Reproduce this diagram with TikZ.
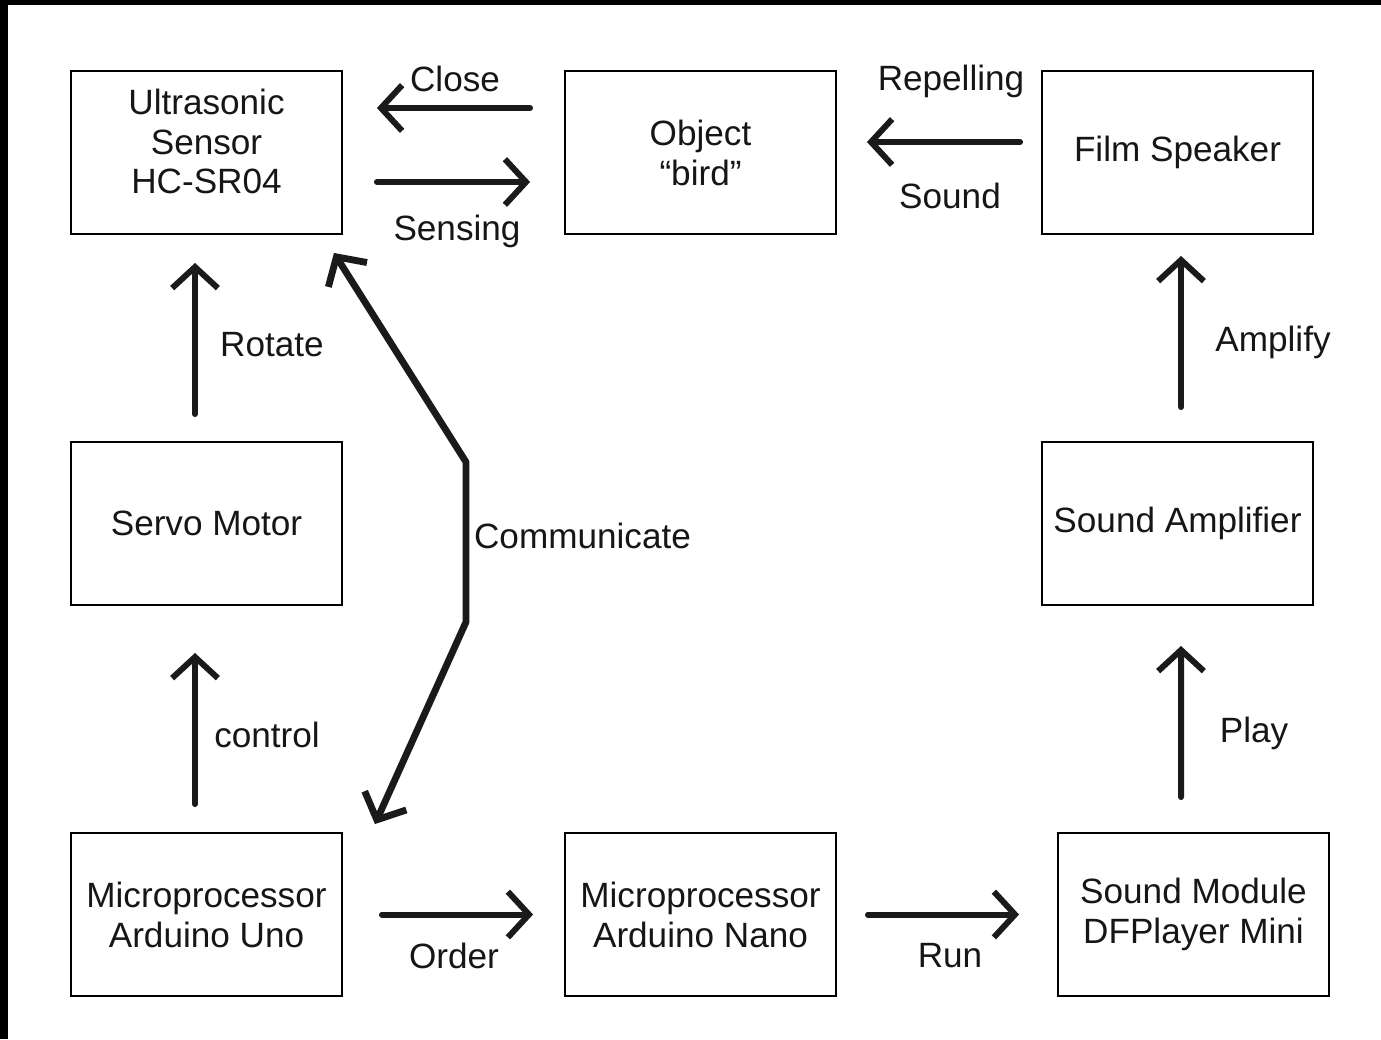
\documentclass[tikz,border=0pt]{standalone}
\usepackage{fontspec}
\setmainfont{Liberation Sans}
\usetikzlibrary{arrows.meta,calc}
\definecolor{inkText}{HTML}{161616}
\definecolor{arrowInk}{HTML}{1A1A1A}

\begin{document}
\begin{tikzpicture}[
  x=0.02cm, y=0.02cm,
  font=\fontsize{20}{22.7}\selectfont,
  every node/.style={text=inkText},
  box/.style={draw=black, line width=1.1pt, align=center, inner sep=0pt,
              minimum width=5.42cm, minimum height=3.26cm},
  flow/.style={-{Straight Barb[length=12pt,width=26pt]}, line width=3.4pt,
               draw=arrowInk, line cap=round, line join=round},
  flowbi/.style={{Straight Barb[length=12pt,width=26pt]}-{Straight Barb[length=12pt,width=26pt]},
                 line width=3.9pt, draw=arrowInk, line cap=round, line join=round},
  lbl/.style={inner sep=1pt},
]
\useasboundingbox (0,0) rectangle (1381,-1039);
% screenshot edges
\fill[black] (0,0) rectangle (1381,-5);
\fill[black] (0,0) rectangle (8,-1039);

% ---------------- NODES (absolute grid) ----------------
\node[box] (US) at (206.5,-152.5) {Ultrasonic\\Sensor\\HC-SR04\\[-10pt]\mbox{}};
\node[box] (OBJ) at (700.5,-152.5) {Object\\“bird”};
\node[box] (SPK) at (1177.5,-152.5) {Film Speaker};

\node[box] (SRV) at (206.5,-523.5) {Servo Motor};
\node[box] (AMP) at (1177.5,-523.5) {Sound Amplifier};

\node[box] (UNO) at (206.5,-914.5) {Microprocessor\\Arduino Uno};
\node[box] (NANO) at (700.5,-914.5) {Microprocessor\\Arduino Nano};
\node[box] (DFP) at (1193.5,-914.5) {Sound Module\\DFPlayer Mini};

\coordinate (bendTop) at (466,-462);
\coordinate (bendBot) at (466,-622);

% ---------------- EDGES ----------------
\draw[flow] ($(OBJ.west)+(-34,44.5)$) -- ($(US.east)+(34,44.5)$);
\draw[flow] ($(US.east)+(34,-29.5)$) -- ($(OBJ.west)+(-34,-29.5)$);
\draw[flow] ($(SPK.west)+(-21,10.5)$) -- ($(OBJ.east)+(30,10.5)$);
\draw[flow] ($(SRV.north)+(-11.5,27)$) -- ($(US.south)+(-11.5,-28)$);
\draw[flow] ($(UNO.north)+(-11.5,28)$) -- ($(SRV.south)+(-11.5,-47)$);
\draw[flow] ($(AMP.north)+(3.5,34)$) -- ($(SPK.south)+(3.5,-21)$);
\draw[flow] ($(DFP.north)+(-12.5,35)$) -- ($(AMP.south)+(3.5,-40)$);
\draw[flow] ($(UNO.east)+(39,0)$) -- ($(NANO.west)+(-31,0)$);
\draw[flow] ($(NANO.east)+(31,0)$) -- ($(DFP.west)+(-38,0)$);
% uno <-> sensor, bent round the servo
\draw[flowbi] ($(US.south east)+(-9,-18)$) -- (bendTop) -- (bendBot)
  -- ($(UNO.north east)+(32,8)$);

% ---------------- LABELS ----------------
\node[lbl] (closeLbl) at (455,-79) {Close};
\node[lbl] (sensingLbl) at (457,-231) {Sensing};
\node[lbl] (repelLbl) at (951,-81) {Repelling};
\node[lbl] (soundLbl) at (950,-196) {Sound};
\node[lbl] (rotateLbl) at (272,-345) {Rotate};
\node[lbl] (controlLbl) at (267,-735) {control};
\node[lbl] (amplifyLbl) at (1273,-342) {Amplify};
\node[lbl] (playLbl) at (1254,-733) {Play};
\node[lbl] (orderLbl) at (454,-956) {Order};
\node[lbl] (runLbl) at (950,-956) {Run};
\node[lbl, anchor=west] (commLbl) at (472,-536) {Communicate};
\end{tikzpicture}
\end{document}
